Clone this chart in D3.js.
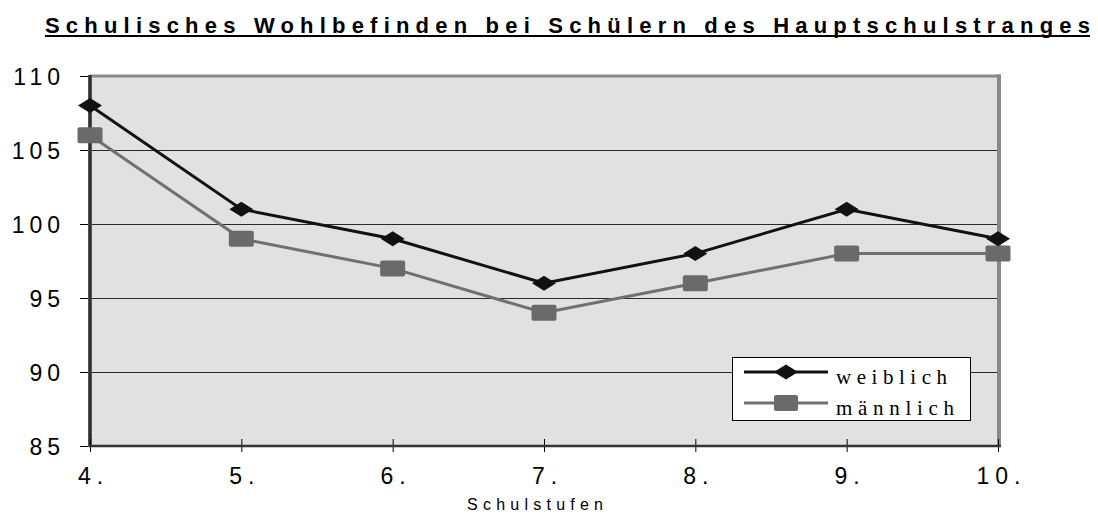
<!DOCTYPE html>
<html lang="de">
<head>
    <meta charset="UTF-8">
    <title>Schulisches Wohlbefinden</title>
    <script src="https://cdn.jsdelivr.net/npm/d3@7"></script>
    <style>
        body {
            margin: 0;
            background-color: #ffffff;
        }

        svg {
            display: block;
        }
    </style>
</head>
<body>
    <svg id="chart" width="1098" height="515"></svg>

    <script>
        const width = 1098;
        const height = 515;

        const stufen = ["4.", "5.", "6.", "7.", "8.", "9.", "10."];
        const weiblich = [108, 101, 99, 96, 98, 101, 99];
        const maennlich = [106, 99, 97, 94, 96, 98, 98];
        const yTicks = [85, 90, 95, 100, 105, 110];
        const seriesNames = ["weiblich", "männlich"];

        const plotLeft = 90, plotRight = 998, plotTop = 76, plotBottom = 446;

        const svg = d3.select("#chart");

        const x = d3.scalePoint()
            .domain(stufen)
            .range([plotLeft, plotRight]);

        const y = d3.scaleLinear()
            .domain([85, 110])
            .range([plotBottom, plotTop]);

        // title
        svg.append("text")
            .attr("x", 45)
            .attr("y", 33)
            .attr("font-family", "Liberation Sans, Arial, sans-serif")
            .attr("font-weight", "bold")
            .attr("font-size", "22px")
            .attr("textLength", 1045)
            .attr("lengthAdjust", "spacing")
            .attr("fill", "#000")
            .text("Schulisches Wohlbefinden bei Schülern des Hauptschulstranges");

        svg.append("rect")
            .attr("x", 45)
            .attr("y", 35)
            .attr("width", 1045)
            .attr("height", 2)
            .attr("fill", "#000");

        // plot area
        svg.append("rect")
            .attr("x", plotLeft)
            .attr("y", plotTop)
            .attr("width", plotRight - plotLeft)
            .attr("height", plotBottom - plotTop)
            .attr("fill", "#e1e1e1");

        // gridlines
        svg.append("g")
            .selectAll("line")
            .data(yTicks.filter(d => d > 85 && d < 110))
            .join("line")
            .attr("x1", plotLeft)
            .attr("x2", plotRight)
            .attr("y1", d => Math.round(y(d)) + 0.5)
            .attr("y2", d => Math.round(y(d)) + 0.5)
            .attr("stroke", "#2a2a2a")
            .attr("stroke-width", 1.2);

        // top and right border
        svg.append("line")
            .attr("x1", plotLeft).attr("x2", plotRight + 3)
            .attr("y1", plotTop).attr("y2", plotTop)
            .attr("stroke", "#888").attr("stroke-width", 3);
        svg.append("line")
            .attr("x1", plotRight + 1).attr("x2", plotRight + 1)
            .attr("y1", plotTop - 1.5).attr("y2", plotBottom)
            .attr("stroke", "#888").attr("stroke-width", 4);

        // y axis
        const yAxis = svg.append("g")
            .attr("transform", `translate(${plotLeft},0)`)
            .call(d3.axisLeft(y).tickValues(yTicks).tickSize(10).tickFormat(d3.format("d")));
        yAxis.select(".domain").remove();
        yAxis.selectAll(".tick line").attr("stroke", "#000").attr("stroke-width", 1);
        yAxis.selectAll(".tick text")
            .attr("x", -25)
            .attr("dy", "0.36em")
            .attr("font-family", "Liberation Sans, Arial, sans-serif")
            .attr("font-size", "23px")
            .attr("letter-spacing", "5px")
            .attr("fill", "#000");

        svg.append("line")
            .attr("x1", plotLeft).attr("x2", plotLeft)
            .attr("y1", plotTop - 1).attr("y2", plotBottom + 1)
            .attr("stroke", "#555").attr("stroke-width", 4);
        svg.append("line")
            .attr("x1", plotLeft).attr("x2", plotLeft)
            .attr("y1", plotTop - 1).attr("y2", plotBottom + 1)
            .attr("stroke", "#222").attr("stroke-width", 1.5);

        // x axis
        const xAxis = svg.append("g")
            .attr("transform", `translate(0,${plotBottom})`)
            .call(d3.axisBottom(x).tickSizeInner(6).tickSizeOuter(0));
        xAxis.select(".domain").remove();
        xAxis.selectAll(".tick line")
            .attr("y1", -7)
            .attr("y2", 6)
            .attr("stroke", "#000");
        xAxis.selectAll(".tick text")
            .attr("y", 38)
            .attr("dy", 0)
            .attr("dx", "3px")
            .attr("font-family", "Liberation Sans, Arial, sans-serif")
            .attr("font-size", "23px")
            .attr("letter-spacing", "6px")
            .attr("fill", "#000");

        svg.append("line")
            .attr("x1", plotLeft - 1).attr("x2", plotRight + 3)
            .attr("y1", plotBottom).attr("y2", plotBottom)
            .attr("stroke", "#333").attr("stroke-width", 2.5);

        // x axis title
        svg.append("text")
            .attr("x", 467)
            .attr("y", 510)
            .attr("font-family", "Liberation Sans, Arial, sans-serif")
            .attr("font-size", "16px")
            .attr("textLength", 136)
            .attr("lengthAdjust", "spacing")
            .attr("fill", "#000")
            .text("Schulstufen");

        // lines
        const line = d3.line()
            .x((d, i) => x(stufen[i]))
            .y(d => y(d));

        const diamond = "M-12,0L0,-7.5L12,0L0,7.5Z";

        svg.append("path")
            .datum(maennlich)
            .attr("d", line)
            .attr("fill", "none")
            .attr("stroke", "#707070")
            .attr("stroke-width", 3);

        svg.append("path")
            .datum(weiblich)
            .attr("d", line)
            .attr("fill", "none")
            .attr("stroke", "#111")
            .attr("stroke-width", 3);

        svg.append("g")
            .selectAll("rect")
            .data(maennlich)
            .join("rect")
            .attr("x", (d, i) => x(stufen[i]) - 12.5)
            .attr("y", d => y(d) - 8)
            .attr("width", 25)
            .attr("height", 16)
            .attr("rx", 2)
            .attr("fill", "#6a6a6a");

        svg.append("g")
            .selectAll("path")
            .data(weiblich)
            .join("path")
            .attr("transform", (d, i) => `translate(${x(stufen[i])},${y(d)})`)
            .attr("d", diamond)
            .attr("fill", "#111");

        // legend
        const legend = svg.append("g");
        legend.append("rect")
            .attr("x", 732.5)
            .attr("y", 357.5)
            .attr("width", 238)
            .attr("height", 63)
            .attr("fill", "#fff")
            .attr("stroke", "#000")
            .attr("stroke-width", 1);

        const legendRows = [
            { name: seriesNames[0], y: 372, color: "#111", marker: "diamond" },
            { name: seriesNames[1], y: 403, color: "#707070", marker: "square" }
        ];

        legendRows.forEach(r => {
            legend.append("line")
                .attr("x1", 744).attr("x2", 828)
                .attr("y1", r.y).attr("y2", r.y)
                .attr("stroke", r.color).attr("stroke-width", 3);
            if (r.marker === "diamond") {
                legend.append("path")
                    .attr("transform", `translate(786,${r.y})`)
                    .attr("d", diamond)
                    .attr("fill", "#111");
            } else {
                legend.append("rect")
                    .attr("x", 774).attr("y", r.y - 8)
                    .attr("width", 24).attr("height", 16)
                    .attr("rx", 2)
                    .attr("fill", "#6a6a6a");
            }
            legend.append("text")
                .attr("x", 836)
                .attr("y", r.y + 12)
                .attr("font-family", "Liberation Serif, Times New Roman, serif")
                .attr("font-size", "21px")
                .attr("textLength", r.marker === "diamond" ? 111 : 118)
                .attr("lengthAdjust", "spacing")
                .attr("fill", "#000")
                .text(r.name);
        });
    </script>
</body>
</html>
